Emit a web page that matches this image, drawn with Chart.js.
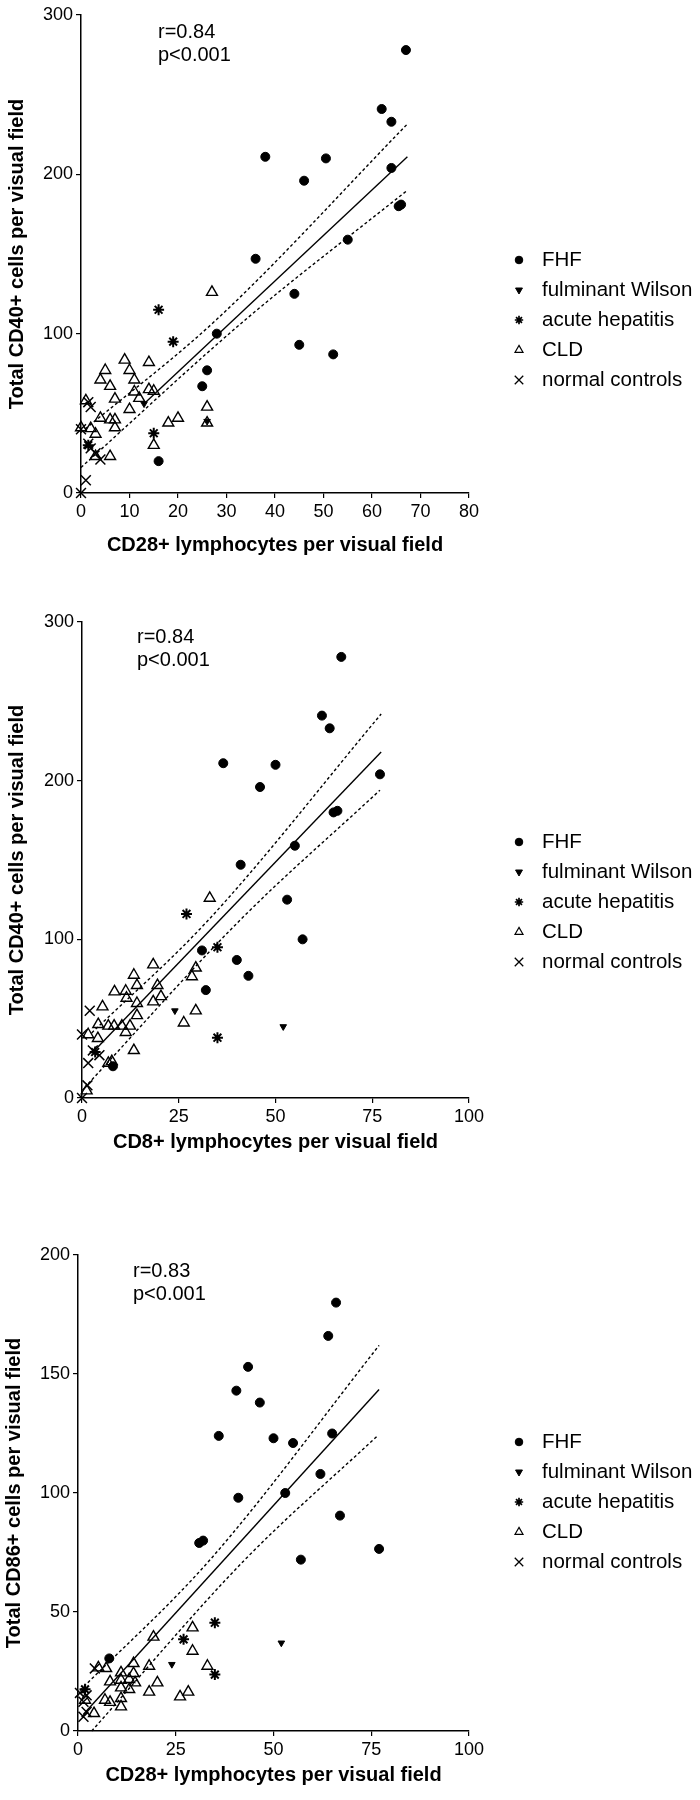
<!DOCTYPE html>
<html><head><meta charset="utf-8">
<script src="https://cdn.jsdelivr.net/npm/chart.js@4.4.1/dist/chart.umd.min.js"></script>
<style>
html,body{margin:0;padding:0;background:#fff;}
.p{position:absolute;left:0;width:700px;height:600px;}
</style></head><body>
<div class="p" style="top:0"><canvas id="c1" width="700" height="600"></canvas></div>
<div class="p" style="top:600px"><canvas id="c2" width="700" height="600"></canvas></div>
<div class="p" style="top:1200px"><canvas id="c3" width="700" height="600"></canvas></div>
<script>
// ---------- data ----------
const legendLabels = ['FHF','fulminant Wilson','acute hepatitis','CLD','normal controls'];

// Panel 1: CD28+ (x) vs total CD40+ (y)
const fhf1 = [[67,278],[62,241],[64,233],[38,211],[50.5,210],[46,196],[64,204],[65.5,180],[66,181],[55,159],[36,147],[44,125],[45,93],[52,87],[28,100],[26,77],[25,67],[16,20]];
const wilson1 = [[13,56],[26,45]];
const acute1 = [[16,115],[19,95],[15,37.5],[1.5,30]];
const cld1 = [[27,126],[14,82],[9,83.5],[5,77],[10,77],[4,71],[11,71],[6,67],[7,59],[11,63.5],[14,65],[15,64],[12,59.5],[10,52.5],[1,58],[4,47],[6,46],[7,46],[7,41],[2,40.5],[3,37],[18,44],[20,47],[26,54],[26,44],[15,30],[3,23],[6,23],[0,41]];
const ctrl1 = [[1.5,57],[2,54],[0,40],[1.5,31],[2,28],[3,25],[4,21],[1,8],[0,0]];
const fit1 = [[13,56],[67.3,211]];
const upper1 = [[0,38],[28,109],[67.3,231.6]];
const lower1 = [[0,16],[34,109],[67.3,190]];

// Panel 2: CD8+ (x) vs total CD40+ (y)
const fhf2 = [[67,278],[62,241],[64,233],[36.5,211],[50,210],[46,196],[77,204],[65,180],[66,181],[55,159],[41,147],[53,125],[57,100],[31,93],[40,87],[43,77],[32,68],[8,20]];
const wilson2 = [[24,55],[52,45]];
const acute2 = [[27,116],[35,95],[35,38],[3.4,29]];
const cld2 = [[33,126],[18.4,84],[13.4,77.5],[29.4,82],[28.4,76.5],[14.2,71],[19.5,71],[8.4,67],[11.3,67.4],[11.5,63],[20.4,64],[14.2,59.7],[18.4,60.7],[5.3,57.5],[14.2,52],[29.4,55],[26.3,47.4],[4.2,46.4],[6.8,45.4],[8.3,45.4],[10.3,45.4],[12.4,45.4],[11.3,41.4],[4.1,37.6],[1.6,40],[13.4,30],[7.7,23],[6.8,22],[1.2,4.6]];
const ctrl2 = [[2,55],[0,40],[2.8,30],[4.5,27],[1.6,22],[1.4,8],[0,0]];
const fit2 = [[2.5,28],[77.3,218]];
const upper2 = [[2.5,41],[32.6,112],[77.3,242]];
const lower2 = [[1.6,9],[40.8,112],[77,194]];

// Panel 3: CD28+ (x) vs total CD86+ (y)
const fhf3 = [[66,180],[64,166],[43.5,153],[40.5,143],[46.5,138],[36,124],[50,123],[55,121],[65,125],[62,108],[41,98],[53,100],[67,90.5],[77,76.5],[57,72],[31,79],[32,80],[8,30.5]];
const wilson3 = [[24,28],[52,37]];
const acute3 = [[35,45.5],[27,38.5],[35,23.7],[1.8,17.5]];
const cld3 = [[19.3,39.5],[29.3,43.4],[29.3,33.6],[33.1,27.3],[18.2,27.3],[14.2,28.4],[5.2,26.6],[7.2,26.3],[11,24.5],[14.2,24.2],[8.2,20.7],[11,21.4],[13.1,21.7],[14.6,20.3],[20.3,20.3],[11,18.2],[13.1,17.5],[18.2,16.4],[28.2,16.4],[26.1,14.4],[6.9,13],[8.2,12.1],[11,13.7],[11,10.2],[4.1,7.4],[1.8,13]];
const ctrl3 = [[4.3,26.3],[0.5,16],[2.2,15],[1.4,12.3],[2.2,8],[1.4,6]];
const fit3 = [[1.4,7],[77,143.5]];
const upper3 = [[0.5,17],[33.8,72],[77,162]];
const lower3 = [[3.5,0],[42.7,72],[76.6,124]];

// ---------- rendering ----------
const FONT = '"Liberation Sans", Arial, Helvetica, sans-serif';
Chart.defaults.font.family = FONT;
Chart.defaults.color = '#000';

function pts(a){ return a.map(p => ({x:p[0], y:p[1]})); }

const styles = [
  {ps:'circle',   r:4.5, fill:true,  rot:0,   bw:1,   lr:3.8, lbw:1},
  {ps:'triangle', r:3.8, fill:true,  rot:180, bw:1,   lr:4,   lbw:1},
  {ps:'star',     r:5.5, fill:false, rot:0,   bw:2,   lr:4.2, lbw:1.7},
  {ps:'triangle', r:6.3, fill:false, rot:0,   bw:1.4, lr:4.6, lbw:1.2},
  {ps:'crossRot', r:7,   fill:false, rot:0,   bw:1.5, lr:6,   lbw:1.3}
];

function build(id, p) {
  const groups = [p.fhf, p.wil, p.acute, p.cld, p.ctrl];
  const datasets = groups.map((d, i) => ({
    type:'scatter', label:legendLabels[i], data:pts(d),
    pointStyle:styles[i].ps, pointRadius:styles[i].r, pointHoverRadius:styles[i].r,
    pointRotation:styles[i].rot,
    pointBackgroundColor: styles[i].fill ? '#000' : 'rgba(0,0,0,0)',
    pointBorderColor:'#000', pointBorderWidth:styles[i].bw, clip:false
  }));
  [[p.fit, []], [p.up, [3, 2.5]], [p.lo, [3, 2.5]]].forEach(([d, dash]) => {
    datasets.push({type:'line', label:'', data:pts(d), borderColor:'#000', borderWidth:1.4,
      borderDash:dash, pointRadius:0, fill:false, cubicInterpolationMode:'monotone', clip:false});
  });

  const extra = {
    id:'extra',
    afterDraw(chart) {
      const ctx = chart.ctx;
      ctx.save();
      ctx.fillStyle = '#000';
      ctx.textBaseline = 'middle';
      ctx.textAlign = 'left';
      ctx.font = '20px ' + FONT;
      ctx.fillText(p.rtext, p.ax, p.ay);
      ctx.fillText('p<0.001', p.ax, p.ay + 23);
      ctx.font = '20.5px ' + FONT;
      legendLabels.forEach((lab, i) => {
        const y = p.ly + i * p.lsp;
        const s = styles[i];
        ctx.fillStyle = s.fill ? '#000' : 'rgba(0,0,0,0)';
        ctx.strokeStyle = '#000';
        ctx.lineWidth = s.lbw;
        Chart.helpers.drawPoint(ctx, {pointStyle:s.ps, rotation:s.rot, radius:s.lr, borderWidth:s.lbw}, 519, y);
        ctx.fillStyle = '#000';
        ctx.fillText(lab, 542, y);
      });
      ctx.restore();
    }
  };

  const tickFont = {size:18};
  new Chart(document.getElementById(id), {
    data:{datasets},
    options:{
      responsive:false, animation:false, events:[],
      layout:{padding:{top:p.top, right:231, bottom:0, left:0}},
      plugins:{legend:{display:false}, tooltip:{enabled:false}},
      scales:{
        x:{type:'linear', min:0, max:p.xmax,
          afterFit(s){ s.height = p.xh; },
          ticks:{stepSize:p.xstep, font:tickFont, padding:3, color:'#000', maxRotation:0},
          grid:{drawOnChartArea:false, drawTicks:true, tickLength:5, color:'#000', lineWidth:1.2},
          border:{display:true, color:'#000', width:1.5},
          title:{display:true, text:p.xtitle, color:'#000', font:{size:20, weight:'bold'}, padding:{top:0, bottom:p.xtp}}
        },
        y:{type:'linear', min:0, max:p.ymax,
          afterFit(s){ s.width = p.yw; },
          ticks:{stepSize:p.ystep, font:tickFont, padding:3, color:'#000'},
          grid:{drawOnChartArea:false, drawTicks:true, tickLength:5, color:'#000', lineWidth:1.2},
          border:{display:true, color:'#000', width:1.5},
          title:{display:true, text:p.ytitle, color:'#000', font:{size:20, weight:'bold'}, padding:{top:p.ytp, bottom:0}}
        }
      }
    },
    plugins:[extra]
  });
}

build('c1', {fhf:fhf1, wil:wilson1, acute:acute1, cld:cld1, ctrl:ctrl1, fit:fit1, up:upper1, lo:lower1,
  top:15, xh:107, yw:81, xmax:80, xstep:10, ymax:300, ystep:100, xtp:43, ytp:5,
  xtitle:'CD28+ lymphocytes per visual field', ytitle:'Total CD40+ cells per visual field',
  rtext:'r=0.84', ax:158, ay:32, ly:260, lsp:30});
build('c2', {fhf:fhf2, wil:wilson2, acute:acute2, cld:cld2, ctrl:ctrl2, fit:fit2, up:upper2, lo:lower2,
  top:22, xh:102, yw:82, xmax:100, xstep:25, ymax:300, ystep:100, xtp:46, ytp:5.5,
  xtitle:'CD8+ lymphocytes per visual field', ytitle:'Total CD40+ cells per visual field',
  rtext:'r=0.84', ax:137, ay:37, ly:242, lsp:30});
build('c3', {fhf:fhf3, wil:wilson3, acute:acute3, cld:cld3, ctrl:ctrl3, fit:fit3, up:upper3, lo:lower3,
  top:55, xh:69, yw:78, xmax:100, xstep:25, ymax:200, ystep:50, xtp:13, ytp:2.5,
  xtitle:'CD28+ lymphocytes per visual field', ytitle:'Total CD86+ cells per visual field',
  rtext:'r=0.83', ax:133, ay:71, ly:242, lsp:30});
</script>
</body></html>
